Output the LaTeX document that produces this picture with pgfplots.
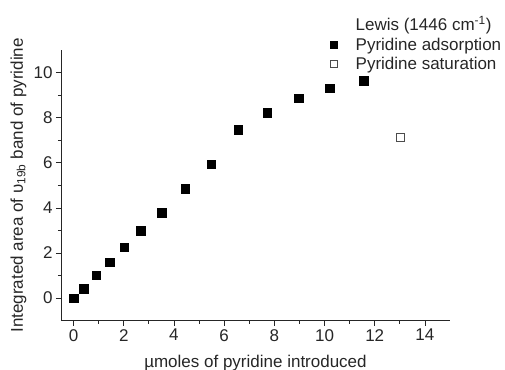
\documentclass[border=0pt]{standalone}
\usepackage{pgfplots}
\pgfplotsset{compat=1.18}
\usepackage{fontspec}
\setmainfont{Liberation Sans}
\begin{document}
\begin{tikzpicture}
\begin{axis}[
  scale only axis,
  width=389pt, height=270.7pt,
  xmin=-0.5, xmax=15, ymin=-1, ymax=11,
  axis lines*=left,
  axis line style={line width=0.8pt, draw=black!85},
  xtick={0,2,...,14}, ytick={0,2,...,10},
  minor x tick num=1, minor y tick num=1,
  tick align=outside,
  major tick length=5pt, minor tick length=3pt,
  tick style={line width=0.7pt, black!85},
  /pgf/number format/assume math mode=true,
  tick label style={font=\fontsize{17}{19}\selectfont, text=black!85},
  label style={font=\fontsize{17}{19}\selectfont, text=black!85},
  xlabel={µmoles of pyridine introduced},
  ylabel={Integrated area of υ\textsubscript{19b} band of pyridine},
  xlabel style={at={(axis description cs:0.5,-0.113)}, anchor=north},
  ylabel style={at={(axis description cs:-0.08,0.5)}, anchor=south},
  legend image code/.code={\path[#1, draw=none, mark size=3.5pt] plot coordinates {(0.3cm,0cm)}; \path[draw=none] (0cm,0cm) -- (1.0cm,0cm);},
  legend style={draw=none, fill=none, at={(axis description cs:0.671,1.14)}, anchor=north west,
    font=\fontsize{17}{19}\selectfont, text=black!85, row sep=1.5pt,
    legend cell align=left},
]
\addlegendimage{empty legend}
\addlegendentry{Lewis (1446 cm\textsuperscript{-1})}
\addplot[only marks, mark=square*, mark size=4.3pt, black, mark options={fill=black}] coordinates {
(0,0) (0.40,0.43) (0.91,1.02) (1.44,1.60) (2.02,2.25) (2.68,2.98) (3.51,3.78) (4.45,4.84)
(5.48,5.94) (6.56,7.47) (7.71,8.22) (8.98,8.87) (10.21,9.30) (11.55,9.63)
};
\addlegendentry{Pyridine adsorption}
\addplot[only marks, mark=square, mark size=4pt, black!70, mark options={line width=0.6pt}] coordinates {
(13.0,7.11)
};
\addlegendentry{Pyridine saturation}
\coordinate (BL) at (axis description cs:-0.1568,-0.1821);
\coordinate (TR) at (axis description cs:1.1414,1.1847);
\end{axis}
\pgfresetboundingbox
\path (BL) rectangle (TR);
\end{tikzpicture}
\end{document}
